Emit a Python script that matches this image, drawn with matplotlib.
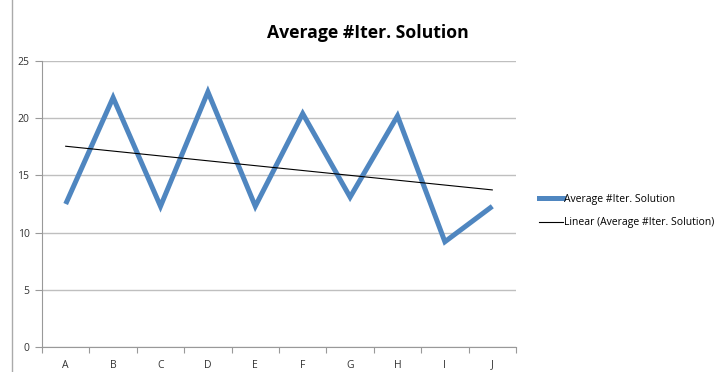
import numpy as np
import matplotlib.pyplot as plt
from matplotlib.lines import Line2D

categories = ['A', 'B', 'C', 'D', 'E', 'F', 'G', 'H', 'I', 'J']
avg_iter = [12.5, 21.8, 12.3, 22.3, 12.3, 20.4, 13.1, 20.2, 9.2, 12.3]
series_name = 'Average #Iter. Solution'

x = np.arange(1, len(categories) + 1)
slope, intercept = np.polyfit(x, avg_iter, 1)
trend = slope * x + intercept

fig = plt.figure(figsize=(7.15, 3.72), dpi=100)
ax = fig.add_axes([42 / 715, 1 - 347 / 372, (516 - 42) / 715, (347 - 61) / 372])

ax.plot(x, avg_iter, color='#4F86C0', lw=3.6, solid_joinstyle='miter',
        solid_capstyle='butt', label=series_name)
ax.plot(x, trend, color='black', lw=0.8, label='Linear (' + series_name + ')')

ax.set_xlim(0.5, len(categories) + 0.5)
ax.set_ylim(0, 25)
ax.set_yticks([0, 5, 10, 15, 20, 25])
ax.set_xticks(x)
ax.set_xticklabels(categories)
ax.set_xticks(np.arange(0.5, len(categories) + 1), minor=True)
ax.tick_params(axis='x', which='major', length=0, pad=9, labelsize=7.5, labelcolor='#333333')
ax.tick_params(axis='x', which='minor', length=4, color='#999999', width=0.8)
ax.tick_params(axis='y', length=5, color='#999999', width=0.8, pad=4,
               labelsize=7.5, labelcolor='#333333')
for lab in ax.get_xticklabels() + ax.get_yticklabels():
    lab.set_family('Open Sans')

ax.grid(axis='y', color='#BFBFBF', lw=1)
ax.set_axisbelow(True)
for s in ['top', 'right']:
    ax.spines[s].set_visible(False)
for s in ['left', 'bottom']:
    ax.spines[s].set_color('#999999')
    ax.spines[s].set_linewidth(0.8)

fig.text(368 / 715, 1 - 33 / 372, series_name, ha='center', va='center',
         fontsize=12.7, fontweight='bold', family='Open Sans')

handles = [Line2D([], [], color='#4F86C0', lw=3.6),
           Line2D([], [], color='black', lw=0.8)]
fig.legend(handles, [series_name, 'Linear (' + series_name + ')'],
           loc='center left', bbox_to_anchor=(530 / 715, 1 - 211 / 372),
           frameon=False, prop={'family': 'Open Sans', 'size': 7.5},
           handlelength=2.3, handletextpad=0.1, labelspacing=1.2)

# outer chart border, only its left edge is visible
fig.add_artist(Line2D([12 / 715, 12 / 715], [0, 1], color='#AAAAAA', lw=1))

fig.savefig('out.png', dpi=100)
